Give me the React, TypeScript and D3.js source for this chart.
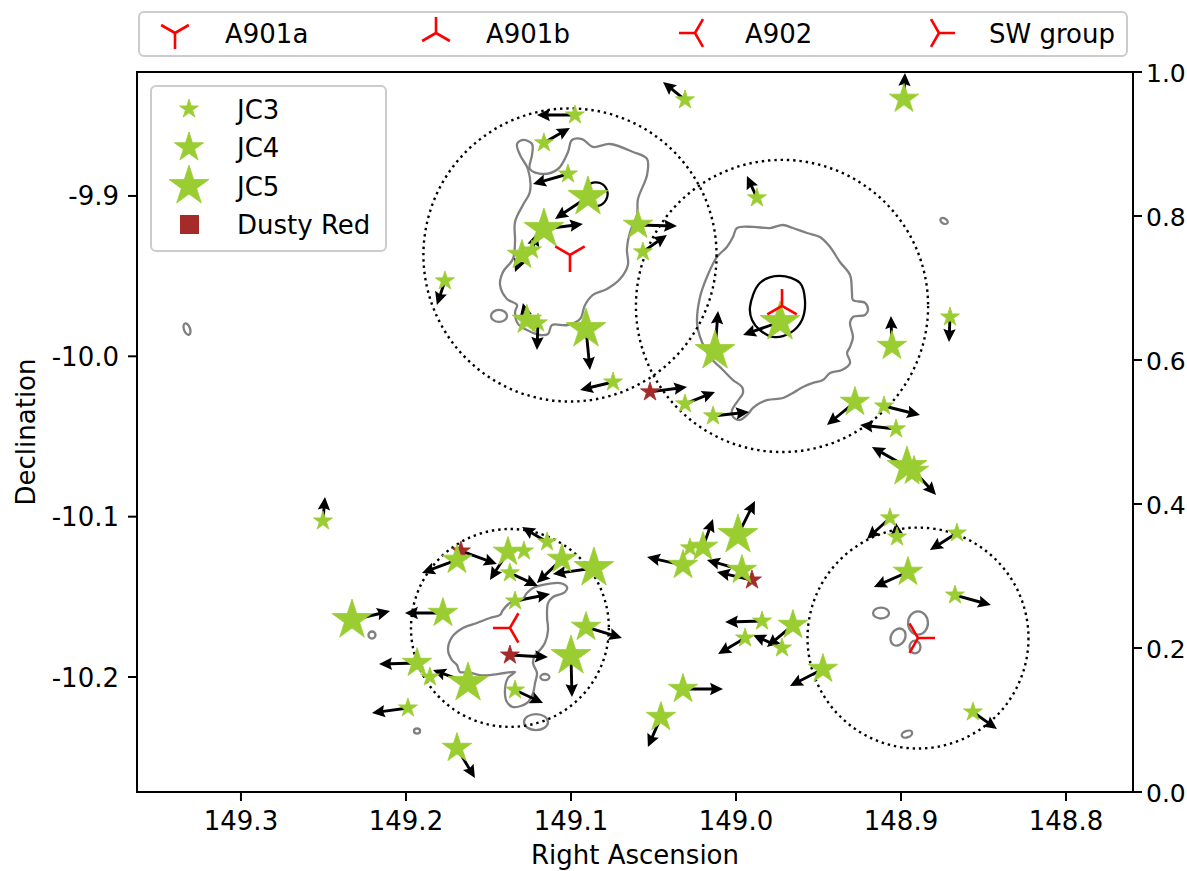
import React from 'react';
import * as d3 from 'd3';

const W = 1187;
const H = 871;
const PLOT = { left: 137, right: 1133, top: 72, bottom: 792 };

// axes
const raDomain = [149.363, 148.7594];
const decDomain = [-10.2717, -9.8227];
const raTicks = [149.3, 149.2, 149.1, 149.0, 148.9, 148.8];
const decTicks = [-9.9, -10.0, -10.1, -10.2];
const rightTicks = [0, 0.2, 0.4, 0.6, 0.8, 1.0];

// galaxies: [RA, Dec, u, v] (u,v = proper-motion-like arrow components)
const jc3Stars = [
  [149.0309, -9.8401, -22, 18], [149.0976, -9.8495, -38, 0], [149.1164, -9.8669, 26, 15],
  [149.1018, -9.8863, -35, -10], [149.1236, -9.9337, 5, 17], [149.0564, -9.9349, 24, 17],
  [149.1764, -9.9530, -8, -24], [149.1200, -9.9792, -1, -27], [149.0745, -10.0160, -33, -8],
  [149.0309, -10.0297, 30, 12], [148.9873, -9.9012, -10, 22], [148.8703, -9.9755, -1, -25],
  [149.0139, -10.0372, 36, 4], [148.9103, -10.0310, 36, -9], [148.9030, -10.0453, -36, 4],
  [148.9067, -10.1008, -23, -21], [148.9024, -10.1127, -1, 14], [148.8661, -10.1102, -27, -17],
  [148.8673, -10.1489, 36, -10], [148.8564, -10.2218, 24, -17], [149.0279, -10.1195, 0, 0],
  [148.9842, -10.1651, -37, -1], [148.9945, -10.1757, -27, -16], [148.9721, -10.1819, -29, 13],
  [149.2503, -10.1027, 2, 24], [149.1285, -10.1214, 0, 0], [149.1145, -10.1158, -25, 15],
  [149.1370, -10.1351, 28, -13], [149.1339, -10.1526, 35, 7], [149.1855, -10.2000, 0, 0],
  [149.1339, -10.2081, 28, -13], [149.1988, -10.2193, -36, -5],
];
const jc4Stars = [
  [149.1297, -9.9368, -7, -17], [149.0594, -9.9181, 39, -1], [149.1267, -9.9773, -4, 17],
  [148.9055, -9.9936, -1, 30], [148.9279, -10.0285, -28, -23], [148.8982, -9.8395, 1, 26],
  [148.8921, -10.0715, 22, -24], [148.8958, -10.1345, -34, -15], [148.9473, -10.1950, -33, -17],
  [149.0200, -10.1189, 10, 28], [149.0321, -10.1302, -36, 8], [148.9964, -10.1333, -35, 10],
  [148.9655, -10.1676, -26, -22], [149.0321, -10.2075, 40, 0], [149.0455, -10.2250, -13, -30],
  [149.1691, -10.1270, -35, -13], [149.1382, -10.1220, -18, -28], [149.1055, -10.1264, -25, -24],
  [149.1776, -10.1601, -38, 0], [149.0909, -10.1688, 36, -11], [149.1933, -10.1913, -38, -1],
  [149.1691, -10.2443, 18, -30],
];
const jc5Stars = [
  [149.0897, -9.9006, -33, -22], [149.1164, -9.9206, 39, 5], [149.0909, -9.9830, 4, -41],
  [149.0127, -9.9967, 3, 40], [148.9733, -9.9786, -37, -13], [148.8964, -10.0690, -35, 20],
  [148.9988, -10.1114, 17, 34], [149.0861, -10.1320, -41, -6], [149.2327, -10.1645, 38, 9],
  [149.1000, -10.1869, 1, -41], [149.1624, -10.2037, -35, 13],
];
const dustyRed = [
  [149.0521, -10.0222, 37, 5], [148.9903, -10.1395, -35, 8],
  [149.1667, -10.1214, 36, -13], [149.1370, -10.1863, 38, -2],
];

// clusters
const clusterNames = ['A901a', 'A901b', 'A902', 'SW group'];
const clusterMarkers = ['tri_down', 'tri_up', 'tri_left', 'tri_right'];
const clusterRA = [149.1006, 148.9721, 149.1370, 148.8897];
const clusterDec = [-9.9368, -9.9686, -10.1694, -10.1757];
const clusterRadius = [0.0914, 0.0911, 0.0617, 0.0689];

// contours [RA, Dec]
const contourA901a = [
  [149.1249, -9.8832], [149.1170, -9.8863], [149.1079, -9.8832], [149.1018, -9.8726], [149.0994, -9.8651],
  [149.0933, -9.8645], [149.0867, -9.8694], [149.0764, -9.8676], [149.0624, -9.8726], [149.0539, -9.8769],
  [149.0539, -9.8869], [149.0594, -9.9019], [149.0600, -9.9119], [149.0642, -9.9225], [149.0661, -9.9331],
  [149.0655, -9.9430], [149.0703, -9.9518], [149.0782, -9.9580], [149.0867, -9.9617], [149.0915, -9.9680],
  [149.0945, -9.9767], [149.1024, -9.9805], [149.1115, -9.9805], [149.1139, -9.9861], [149.1188, -9.9867],
  [149.1267, -9.9836], [149.1321, -9.9798], [149.1339, -9.9724], [149.1327, -9.9680], [149.1388, -9.9642],
  [149.1430, -9.9555], [149.1412, -9.9474], [149.1352, -9.9393], [149.1339, -9.9287], [149.1339, -9.9162],
  [149.1291, -9.9056], [149.1249, -9.8975], [149.1261, -9.8832], [149.1309, -9.8744], [149.1327, -9.8676],
  [149.1291, -9.8651], [149.1236, -9.8676], [149.1236, -9.8744],
];
const contourA901b = [
  [148.9994, -9.9200], [148.9897, -9.9193], [148.9794, -9.9200], [148.9715, -9.9181], [148.9655, -9.9200],
  [148.9570, -9.9231], [148.9491, -9.9256], [148.9430, -9.9318], [148.9370, -9.9412], [148.9309, -9.9493],
  [148.9297, -9.9605], [148.9291, -9.9649], [148.9218, -9.9667], [148.9200, -9.9711], [148.9218, -9.9742],
  [148.9291, -9.9755], [148.9309, -9.9792], [148.9291, -9.9879], [148.9309, -9.9942], [148.9327, -9.9979],
  [148.9309, -10.0042], [148.9358, -10.0085], [148.9430, -10.0104], [148.9473, -10.0148], [148.9533, -10.0166],
  [148.9594, -10.0191], [148.9655, -10.0229], [148.9715, -10.0260], [148.9806, -10.0272], [148.9855, -10.0291],
  [148.9897, -10.0322], [148.9933, -10.0366], [148.9976, -10.0397], [149.0018, -10.0378], [149.0024, -10.0335],
  [148.9994, -10.0285], [148.9958, -10.0229], [148.9964, -10.0191], [149.0018, -10.0148], [149.0079, -10.0085],
  [149.0158, -10.0004], [149.0218, -9.9879], [149.0236, -9.9792], [149.0218, -9.9630], [149.0176, -9.9505],
  [149.0115, -9.9380], [149.0055, -9.9318], [149.0018, -9.9256],
];
const contourA902 = [
  [149.1230, -10.1445], [149.1170, -10.1426], [149.1067, -10.1414], [149.1024, -10.1439], [149.1036, -10.1470],
  [149.1109, -10.1501], [149.1139, -10.1539], [149.1145, -10.1626], [149.1139, -10.1707], [149.1158, -10.1788],
  [149.1188, -10.1832], [149.1218, -10.1863], [149.1230, -10.1913], [149.1206, -10.1975], [149.1218, -10.2038],
  [149.1230, -10.2100], [149.1267, -10.2162], [149.1352, -10.2187], [149.1388, -10.2156], [149.1400, -10.2081],
  [149.1382, -10.2006], [149.1339, -10.1969], [149.1400, -10.1975], [149.1491, -10.1988], [149.1552, -10.1988],
  [149.1624, -10.1969], [149.1673, -10.1969], [149.1691, -10.1925], [149.1721, -10.1894], [149.1745, -10.1832],
  [149.1721, -10.1751], [149.1655, -10.1694], [149.1570, -10.1663], [149.1491, -10.1632], [149.1430, -10.1613],
  [149.1412, -10.1582], [149.1370, -10.1539], [149.1297, -10.1520], [149.1267, -10.1476],
];
const innerContourA901b = [
  [148.9915, -9.9692], [148.9855, -9.9543], [148.9733, -9.9499], [148.9612, -9.9543], [148.9582, -9.9649],
  [148.9600, -9.9773], [148.9673, -9.9855], [148.9776, -9.9879], [148.9855, -9.9836], [148.9903, -9.9773],
];
const innerContourA901a = [
  [149.0885, -9.8925], [149.0824, -9.8919], [149.0782, -9.8963], [149.0788, -9.9025],
  [149.0836, -9.9062], [149.0885, -9.9050], [149.0909, -9.8994],
];
// small contour islands: [RA, Dec, rRA(deg), rDec(deg), tilt]
const contourIslands = [
  [149.3327, -9.9830, 0.0019, 0.0037, -20], [148.8739, -9.9156, 0.0025, 0.0016, 30],
  [149.1436, -9.9748, 0.0050, 0.0037, 0], [149.2206, -10.1738, 0.0022, 0.0022, 0],
  [149.1933, -10.2337, 0.0019, 0.0016, 0], [149.1158, -10.2000, 0.0028, 0.0019, 0],
  [149.1212, -10.2281, 0.0075, 0.0050, 0], [148.9121, -10.1601, 0.0050, 0.0034, 0],
  [148.9018, -10.1751, 0.0044, 0.0056, 30], [148.8897, -10.1663, 0.0062, 0.0072, 0],
  [148.8915, -10.1813, 0.0034, 0.0040, 0], [148.8964, -10.2356, 0.0034, 0.0020, -20],
];

const GREEN = '#9acd32';
const BROWN = '#a52a2a';
const FONT = 'DejaVu Sans, Liberation Sans, sans-serif';
const FS = 26;

function starPath(R: number) {
  const pts: string[] = [];
  for (let i = 0; i < 10; i++) {
    const a = (-90 + i * 36) * Math.PI / 180;
    const r = i % 2 === 0 ? R : R * 0.381966;
    pts.push(`${(r * Math.cos(a)).toFixed(2)},${(r * Math.sin(a)).toFixed(2)}`);
  }
  return 'M' + pts.join('L') + 'Z';
}

function triPath(kind: string, a: number) {
  const s = Math.sin(Math.PI / 3) * a;
  const h = a / 2;
  let arms: number[][] = [];
  if (kind === 'tri_down') arms = [[0, a], [-s, -h], [s, -h]];
  if (kind === 'tri_up') arms = [[0, -a], [-s, h], [s, h]];
  if (kind === 'tri_left') arms = [[-a, 0], [h, -s], [h, s]];
  if (kind === 'tri_right') arms = [[a, 0], [-h, -s], [-h, s]];
  return arms.map(p => `M0,0L${p[0].toFixed(2)},${p[1].toFixed(2)}`).join('');
}

function arrowPath(x0: number, y0: number, u: number, v: number) {
  const L = Math.hypot(u, v);
  if (L < 1) return null;
  const dx = u / L, dy = -v / L;
  const nx = -dy, ny = dx;
  const hl = Math.min(13, L * 0.8), hw = 6.2, sw = 1.45, hal = hl * 0.88;
  const tx = x0 + u, ty = y0 - v;
  const P = (p: number[]) => `${p[0].toFixed(2)},${p[1].toFixed(2)}`;
  const pts = [
    [x0 + nx * sw, y0 + ny * sw],
    [tx - dx * hal + nx * sw, ty - dy * hal + ny * sw],
    [tx - dx * hl + nx * hw, ty - dy * hl + ny * hw],
    [tx, ty],
    [tx - dx * hl - nx * hw, ty - dy * hl - ny * hw],
    [tx - dx * hal - nx * sw, ty - dy * hal - ny * sw],
    [x0 - nx * sw, y0 - ny * sw],
  ];
  return 'M' + pts.map(P).join('L') + 'Z';
}

export default function App() {
  const x = d3.scaleLinear().domain(raDomain).range([PLOT.left, PLOT.right]);
  const y = d3.scaleLinear().domain(decDomain).range([PLOT.bottom, PLOT.top]);
  const y2 = d3.scaleLinear().domain([0, 1]).range([PLOT.bottom, PLOT.top]);
  const kY = (PLOT.bottom - PLOT.top) / (decDomain[1] - decDomain[0]);

  const closed = d3.line<number[]>().x(d => x(d[0])).y(d => y(d[1])).curve(d3.curveCatmullRomClosed.alpha(0.5));

  const allSets: [number[][], number, string][] = [
    [dustyRed, 10, BROWN], [jc3Stars, 10, GREEN], [jc4Stars, 15.5, GREEN], [jc5Stars, 21, GREEN],
  ];

  const legendEntries = [
    { label: 'JC3', R: 10 }, { label: 'JC4', R: 15.5 }, { label: 'JC5', R: 21 },
  ];
  const topLegendX = [225, 486, 745, 989];

  return (
    <svg width={W} height={H} style={{ position: 'absolute', left: 0, top: 0, background: '#fff' }}
      fontFamily={FONT}>
      <defs>
        <clipPath id="plotclip">
          <rect x={PLOT.left} y={PLOT.top} width={PLOT.right - PLOT.left} height={PLOT.bottom - PLOT.top} />
        </clipPath>
      </defs>
      <rect x={0} y={0} width={W} height={H} fill="#fff" />
      <g clipPath="url(#plotclip)">
        {[contourA901a, contourA901b, contourA902].map((c, i) => (
          <path key={'c' + i} d={closed(c) || ''} fill="none" stroke="#808080" strokeWidth={2.3} />
        ))}
        {contourIslands.map((e, i) => (
          <ellipse key={'e' + i} cx={x(e[0])} cy={y(e[1])} rx={e[2] * kY} ry={e[3] * kY}
            transform={`rotate(${e[4]} ${x(e[0])} ${y(e[1])})`}
            fill="none" stroke="#808080" strokeWidth={2.3} />
        ))}
        {[innerContourA901b, innerContourA901a].map((c, i) => (
          <path key={'k' + i} d={closed(c) || ''} fill="none" stroke="#000" strokeWidth={2.3} />
        ))}
        {clusterRA.map((ra, i) => (
          <circle key={'cc' + i} cx={x(ra)} cy={y(clusterDec[i])} r={clusterRadius[i] * kY}
            fill="none" stroke="#000" strokeWidth={2.4} strokeDasharray="2.4 3.9" />
        ))}
        {allSets.map(([set], si) => set.map((s, i) => {
          const d = arrowPath(x(s[0]), y(s[1]), s[2], s[3]);
          return d ? <path key={`a${si}-${i}`} d={d} fill="#000" /> : null;
        }))}
        {allSets.map(([set, R, col], si) => set.map((s, i) => (
          <path key={`s${si}-${i}`} d={starPath(R)} transform={`translate(${x(s[0])},${y(s[1])})`}
            fill={col} stroke={col} strokeWidth={0.8} strokeLinejoin="round" />
        )))}
        {clusterRA.map((ra, i) => (
          <path key={'m' + i} d={triPath(clusterMarkers[i], 17)} transform={`translate(${x(ra)},${y(clusterDec[i])})`}
            stroke="#ff0000" strokeWidth={2.6} fill="none" />
        ))}
      </g>

      <rect x={PLOT.left} y={PLOT.top} width={PLOT.right - PLOT.left} height={PLOT.bottom - PLOT.top}
        fill="none" stroke="#000" strokeWidth={2} />

      {raTicks.map((t, i) => (
        <g key={'xt' + i}>
          <line x1={x(t)} x2={x(t)} y1={PLOT.bottom} y2={PLOT.bottom + 9} stroke="#000" strokeWidth={2} />
          <text x={x(t)} y={PLOT.bottom + 38} textAnchor="middle" fontSize={FS} fill="#000">{t.toFixed(1)}</text>
        </g>
      ))}
      {decTicks.map((t, i) => (
        <g key={'yt' + i}>
          <line x1={PLOT.left - 9} x2={PLOT.left} y1={y(t)} y2={y(t)} stroke="#000" strokeWidth={2} />
          <text x={PLOT.left - 18} y={y(t) + 9.5} textAnchor="end" fontSize={FS} fill="#000">{t.toFixed(1)}</text>
        </g>
      ))}
      {rightTicks.map((t, i) => (
        <g key={'rt' + i}>
          <line x1={PLOT.right} x2={PLOT.right + 9} y1={y2(t)} y2={y2(t)} stroke="#000" strokeWidth={2} />
          <text x={PLOT.right + 13} y={y2(t) + 9.5} textAnchor="start" fontSize={25} fill="#000">{t.toFixed(1)}</text>
        </g>
      ))}
      <text x={(PLOT.left + PLOT.right) / 2} y={864} textAnchor="middle" fontSize={FS} fill="#000">Right Ascension</text>
      <text transform={`translate(35,${(PLOT.top + PLOT.bottom) / 2}) rotate(-90)`} textAnchor="middle" fontSize={FS} fill="#000">Declination</text>

      <rect x={151} y={86} width={235} height={165} rx={5} fill="#fff" fillOpacity={0.8} stroke="#cccccc" strokeWidth={2} />
      {legendEntries.map((e, i) => (
        <g key={'lg' + i}>
          <path d={starPath(e.R)} transform={`translate(189,${109 + i * 38.5})`} fill={GREEN} stroke={GREEN} strokeWidth={0.8} />
          <text x={237} y={109 + i * 38.5 + 9.5} fontSize={FS} fill="#000">{e.label}</text>
        </g>
      ))}
      <rect x={180} y={215} width={19} height={19} fill={BROWN} />
      <text x={237} y={224 + 9.5} fontSize={FS} fill="#000">Dusty Red</text>

      <rect x={139} y={12} width={988} height={44} rx={5} fill="#fff" stroke="#cccccc" strokeWidth={2} />
      {clusterNames.map((n, i) => (
        <g key={'tl' + i}>
          <path d={triPath(clusterMarkers[i], 16)} transform={`translate(${topLegendX[i] - 50},33)`}
            stroke="#ff0000" strokeWidth={2.6} fill="none" />
          <text x={topLegendX[i]} y={33 + 9.5} fontSize={FS} fill="#000">{n}</text>
        </g>
      ))}
    </svg>
  );
}
